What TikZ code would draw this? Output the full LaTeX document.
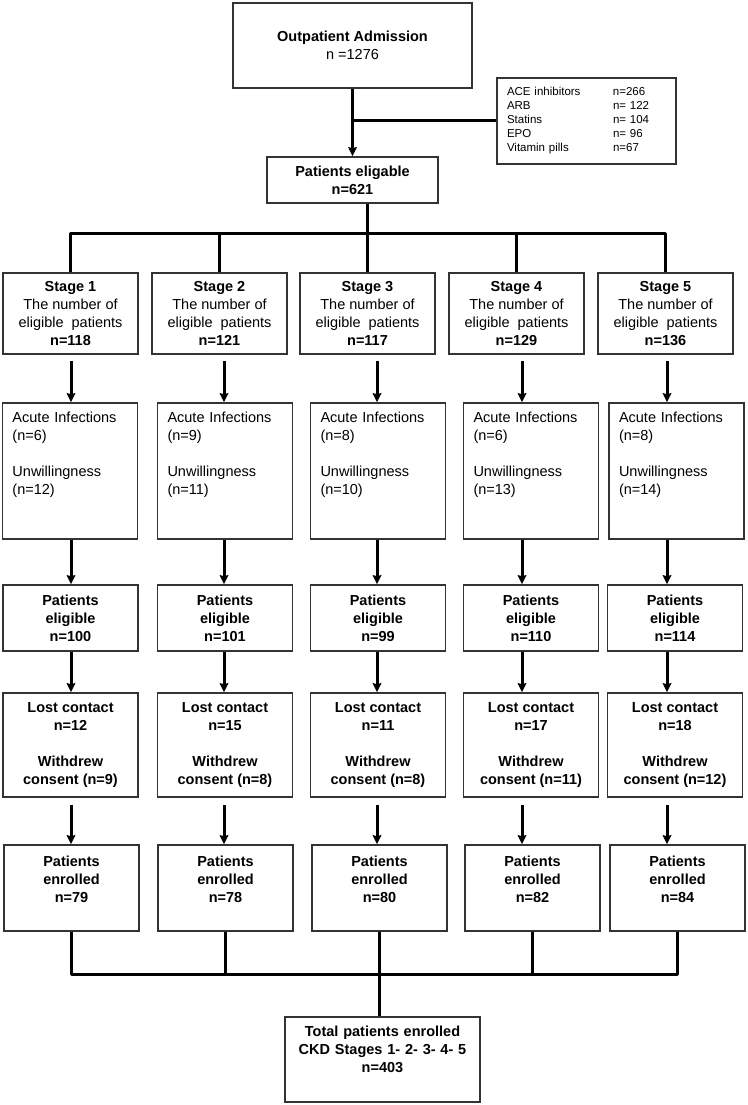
\documentclass[tikz,border=0pt]{standalone}
\usepackage{fontspec}
\setmainfont{Liberation Sans}
\usetikzlibrary{arrows.meta}
\tikzset{
  box/.style={rectangle, draw=black!80, line width=1.6pt, inner sep=0pt, align=center, font=\fontsize{14.5}{18}\selectfont},
  stagebox/.style={box, minimum width=135pt, minimum height=81pt},
  exclbox/.style={box, align=left, text width=115pt, minimum width=135pt, minimum height=136pt},
  eligbox/.style={box, minimum width=135pt, minimum height=66pt, font=\fontsize{14.5}{18}\selectfont\bfseries},
  lostbox/.style={box, minimum width=135pt, minimum height=104pt, font=\fontsize{14.5}{18}\selectfont\bfseries},
  enrbox/.style={box, text width=125pt, minimum width=135pt, minimum height=86pt, font=\fontsize{14.5}{18}\selectfont\bfseries},
  conn/.style={line width=3pt, line join=round},
  >={Stealth[length=9pt,width=8.5pt,inset=1pt]}
}

\begin{document}
\begin{tikzpicture}[x=1pt, y=-1pt]
  \useasboundingbox (0,0) rectangle (747,1105);
  % top part
  \node[box, minimum width=239pt, minimum height=85pt] (adm) at (352.5,45.5) {\textbf{Outpatient Admission}\\n =1276};
  \node[box, align=left, text width=159pt, minimum width=179pt, minimum height=86pt, font=\fontsize{11.5}{14}\selectfont] (meds) at (586.5,121) {%
    \makebox[106pt][l]{ACE inhibitors}n=266\\
    \makebox[106pt][l]{ARB}n= 122\\
    \makebox[106pt][l]{Statins}n= 104\\
    \makebox[106pt][l]{EPO}n= 96\\
    \makebox[106pt][l]{Vitamin pills}n=67};
  \node[box, minimum width=171pt, minimum height=46pt, font=\fontsize{14.5}{18}\selectfont\bfseries] (elig) at (352.5,180) {Patients eligable\\n=621};
  \coordinate (bus1) at (0,233);
  \coordinate (bus2) at (0,974);
  % arrow columns
  \coordinate (c1) at (71,0);
  \coordinate (c2) at (224,0);
  \coordinate (c3) at (377,0);
  \coordinate (c4) at (522,0);
  \coordinate (c5) at (667,0);
  % stages
  \node[stagebox] (s1) at (70.5,313.5) {\textbf{Stage 1}\\The number of\\eligible~ patients\\\textbf{n=118}};
  \node[stagebox] (s2) at (219.5,313.5) {\textbf{Stage 2}\\The number of\\eligible~ patients\\\textbf{n=121}};
  \node[stagebox] (s3) at (367.5,313.5) {\textbf{Stage 3}\\The number of\\eligible~ patients\\\textbf{n=117}};
  \node[stagebox] (s4) at (516.5,313.5) {\textbf{Stage 4}\\The number of\\eligible~ patients\\\textbf{n=129}};
  \node[stagebox] (s5) at (665.5,313.5) {\textbf{Stage 5}\\The number of\\eligible~ patients\\\textbf{n=136}};
  % exclusions
  \node[exclbox] (x1) at (70,471) {Acute Infections\\(n=6)\\[18pt]Unwillingness\\(n=12)\\[18pt]\mbox{}};
  \node[exclbox] (x2) at (225,471) {Acute Infections\\(n=9)\\[18pt]Unwillingness\\(n=11)\\[18pt]\mbox{}};
  \node[exclbox] (x3) at (378,471) {Acute Infections\\(n=8)\\[18pt]Unwillingness\\(n=10)\\[18pt]\mbox{}};
  \node[exclbox] (x4) at (531,471) {Acute Infections\\(n=6)\\[18pt]Unwillingness\\(n=13)\\[18pt]\mbox{}};
  \node[exclbox] (x5) at (676.5,471) {Acute Infections\\(n=8)\\[18pt]Unwillingness\\(n=14)\\[18pt]\mbox{}};
  % eligible per stage
  \node[eligbox] (e1) at (70.5,618) {Patients\\eligible\\n=100};
  \node[eligbox] (e2) at (225,618) {Patients\\eligible\\n=101};
  \node[eligbox] (e3) at (378,618) {Patients\\eligible\\n=99};
  \node[eligbox] (e4) at (531,618) {Patients\\eligible\\n=110};
  \node[eligbox] (e5) at (675,618) {Patients\\eligible\\n=114};
  % lost to follow-up
  \node[lostbox] (lc1) at (70.5,745) {Lost contact\\n=12\\[18pt]Withdrew\\consent (n=9)};
  \node[lostbox] (lc2) at (225,745) {Lost contact\\n=15\\[18pt]Withdrew\\consent (n=8)};
  \node[lostbox] (lc3) at (378,745) {Lost contact\\n=11\\[18pt]Withdrew\\consent (n=8)};
  \node[lostbox] (lc4) at (531,745) {Lost contact\\n=17\\[18pt]Withdrew\\consent (n=11)};
  \node[lostbox] (lc5) at (675,745) {Lost contact\\n=18\\[18pt]Withdrew\\consent (n=12)};
  % enrolled
  \node[enrbox] (en1) at (71.5,888) {Patients\\enrolled\\n=79\\\mbox{}};
  \node[enrbox] (en2) at (225.5,888) {Patients\\enrolled\\n=78\\\mbox{}};
  \node[enrbox] (en3) at (379.5,888) {Patients\\enrolled\\n=80\\\mbox{}};
  \node[enrbox] (en4) at (532.5,888) {Patients\\enrolled\\n=82\\\mbox{}};
  \node[enrbox] (en5) at (677.5,888) {Patients\\enrolled\\n=84\\\mbox{}};
  \node[enrbox, text width=185pt, minimum width=195pt, minimum height=85pt] (tot) at (382.5,1059.5) {Total patients enrolled\\CKD Stages 1- 2- 3- 4- 5\\n=403\\[2pt]\mbox{}};
  % connectors
  \draw[->, conn] (adm) -- (elig);
  \draw[conn] (meds.west) -- (meds.west -| adm.south);
  \draw[conn] (elig.south -| s3.north) -- (s3.north |- bus1);
  \draw[conn] (s1.north) -- (s1.north |- bus1) -- (s5.north |- bus1) -- (s5.north);
  \draw[conn] (s2.north) -- (s2.north |- bus1);
  \draw[conn] (s3.north) -- (s3.north |- bus1);
  \draw[conn] (s4.north) -- (s4.north |- bus1);
  \draw[->, conn, shorten <=6pt] (s1.south -| c1) -- (x1.north -| c1);
  \draw[->, conn, shorten <=6pt] (s2.south -| c2) -- (x2.north -| c2);
  \draw[->, conn, shorten <=6pt] (s3.south -| c3) -- (x3.north -| c3);
  \draw[->, conn, shorten <=6pt] (s4.south -| c4) -- (x4.north -| c4);
  \draw[->, conn, shorten <=6pt] (s5.south -| c5) -- (x5.north -| c5);
  \draw[->, conn] (x1.south -| c1) -- (e1.north -| c1);
  \draw[->, conn] (x2.south -| c2) -- (e2.north -| c2);
  \draw[->, conn] (x3.south -| c3) -- (e3.north -| c3);
  \draw[->, conn] (x4.south -| c4) -- (e4.north -| c4);
  \draw[->, conn] (x5.south -| c5) -- (e5.north -| c5);
  \draw[->, conn] (e1.south -| c1) -- (lc1.north -| c1);
  \draw[->, conn] (e2.south -| c2) -- (lc2.north -| c2);
  \draw[->, conn] (e3.south -| c3) -- (lc3.north -| c3);
  \draw[->, conn] (e4.south -| c4) -- (lc4.north -| c4);
  \draw[->, conn] (e5.south -| c5) -- (lc5.north -| c5);
  \draw[->, conn, shorten <=7pt] (lc1.south -| c1) -- (en1.north -| c1);
  \draw[->, conn, shorten <=7pt] (lc2.south -| c2) -- (en2.north -| c2);
  \draw[->, conn, shorten <=7pt] (lc3.south -| c3) -- (en3.north -| c3);
  \draw[->, conn, shorten <=7pt] (lc4.south -| c4) -- (en4.north -| c4);
  \draw[->, conn, shorten <=7pt] (lc5.south -| c5) -- (en5.north -| c5);
  \draw[conn] (en1.south) -- (en1.south |- bus2) -- (en5.south |- bus2) -- (en5.south);
  \draw[conn] (en2.south) -- (en2.south |- bus2);
  \draw[conn] (en3.south) -- (en3.south |- bus2);
  \draw[conn] (en4.south) -- (en4.south |- bus2);
  \draw[conn] (en3.south |- bus2) -- (tot.north -| en3.south);
\end{tikzpicture}
\end{document}
